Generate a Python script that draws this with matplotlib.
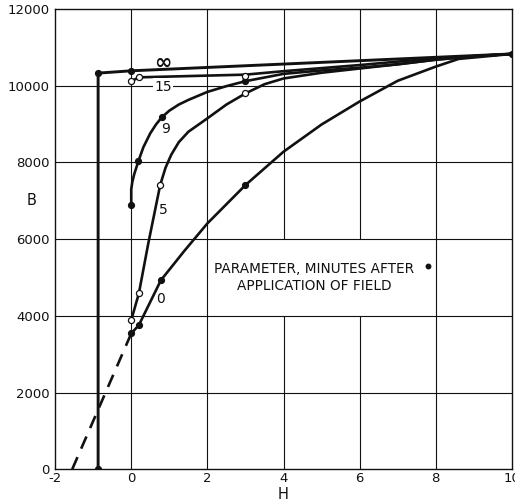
#!/usr/bin/env python3
"""B-H curves with time after field application as parameter."""

import matplotlib

matplotlib.use("Agg")

import matplotlib.pyplot as plt

INK = "#111111"

# curve paths (H, B)
inf_h = [-0.87, -0.87, 0.0, 10.0]
inf_b = [0, 10330, 10390, 10830]

m15_h = [0.0, 0.2, 3.0, 4.0, 6.0, 8.0, 10.0]
m15_b = [10115, 10220, 10290, 10380, 10540, 10720, 10830]

m9_h = [0.0, 0.0, 0.03, 0.08, 0.19, 0.32, 0.5, 0.65, 0.8, 1.0, 1.25, 1.5, 2.0, 2.5, 3.0, 4.0, 5.0, 6.0, 7.0, 8.0, 9.0, 10.0]
m9_b = [6890, 7300, 7500, 7700, 8040, 8400, 8760, 8990, 9175, 9350, 9510, 9630, 9840, 9990, 10120, 10310, 10400, 10470, 10560, 10680, 10770, 10830]

m5_h = [0.0, 0.2, 0.45, 0.76, 0.9, 1.05, 1.25, 1.5, 2.0, 2.5, 3.0, 3.5, 4.0, 5.0, 6.0, 7.0, 8.0, 9.0, 10.0]
m5_b = [3887, 4584, 5900, 7410, 7860, 8200, 8530, 8800, 9150, 9510, 9800, 10040, 10190, 10340, 10450, 10560, 10680, 10770, 10830]

m0_h = [0.0, 0.2, 0.78, 1.4, 2.0, 3.0, 4.0, 5.0, 6.0, 7.0, 8.0, 8.6, 10.0]
m0_b = [3540, 3757, 4930, 5700, 6410, 7410, 8280, 8990, 9590, 10130, 10500, 10700, 10830]

# extrapolation of the 0-minute curve
dash_h = [-1.55, 0.0]
dash_b = [0, 3540]

# measured points
filled_h = [-0.87, -0.87, 0.0, 10.0, 0.0, 0.19, 0.8, 3.0, 0.0, 0.2, 0.78, 3.0]
filled_b = [0, 10330, 10390, 10830, 6890, 8040, 9175, 10120, 3540, 3757, 4930, 7410]
open_h = [0.0, 0.2, 3.0, 0.0, 0.2, 0.76, 3.0]
open_b = [10115, 10220, 10260, 3887, 4584, 7410, 9800]

# curve labels
label_text = ["\u221e", "15", "9", "5", "0"]
label_h = [0.84, 0.83, 0.89, 0.83, 0.77]
label_b = [10600, 9975, 8860, 6760, 4430]

x_ticks = [-2, 0, 2, 4, 6, 8, 10]
y_ticks = [0, 2000, 4000, 6000, 8000, 10000, 12000]


def draw_grid(ax):
    kw = dict(color=INK, linewidth=0.8, zorder=1)
    for h in [0, 2, 8]:
        ax.vlines(h, 0, 12000, **kw)
    # note box sits between H=2..8, B=4000..6000 without grid
    for h in [4, 6]:
        ax.vlines(h, 0, 4000, **kw)
        ax.vlines(h, 6000, 12000, **kw)
    for b in [2000, 4000, 6000, 8000, 10000]:
        ax.hlines(b, -2, 10, **kw)


def main():
    fig = plt.figure(figsize=(5.15, 5.04), dpi=100, facecolor="white")
    ax = fig.add_axes([0.107, 0.069, 0.887, 0.913])
    draw_grid(ax)

    lw = 1.9
    ax.plot(inf_h, inf_b, color=INK, lw=2.1, zorder=3)
    for h, b in ((m15_h, m15_b), (m9_h, m9_b), (m5_h, m5_b), (m0_h, m0_b)):
        ax.plot(h, b, color=INK, lw=lw, zorder=3, solid_joinstyle="round")
    ax.plot(dash_h, dash_b, color=INK, lw=lw, ls=(0, (5, 3.5)), zorder=3)

    ax.plot(filled_h, filled_b, "o", ms=4.2, color=INK, zorder=4)
    ax.plot(open_h, open_b, "o", ms=4.4, mfc="white", mec=INK, mew=0.9, zorder=5)

    for t, h, b in zip(label_text, label_h, label_b):
        if t == "\u221e":
            ax.text(h, b, t, ha="center", va="center", fontsize=15, fontweight="bold",
                    color=INK, zorder=6)
        else:
            ax.text(h, b, t, ha="center", va="center", fontsize=10, color=INK, zorder=6,
                    bbox=dict(facecolor="white", edgecolor="none", pad=1.0) if t == "15" else None)

    ax.text(2.18, 5220, "PARAMETER, MINUTES AFTER", fontsize=9.8, color=INK, va="center", ha="left")
    ax.text(2.78, 4775, "APPLICATION OF FIELD", fontsize=9.8, color=INK, va="center", ha="left")
    ax.plot([7.8], [5290], "o", ms=3.2, color=INK)

    ax.set_xlim(-2, 10)
    ax.set_ylim(0, 12000)
    ax.set_xticks(x_ticks)
    ax.set_yticks(y_ticks)
    ax.set_xticklabels([str(v) for v in x_ticks])
    ax.set_yticklabels([str(v) for v in y_ticks])
    ax.tick_params(length=0, labelsize=9.5, colors=INK)
    ax.tick_params(axis="x", pad=2)
    ax.tick_params(axis="y", pad=4)
    for spine in ax.spines.values():
        spine.set_color(INK)
        spine.set_linewidth(1.0)

    ax.set_xlabel("H", fontsize=10.5, color=INK)
    ax.xaxis.set_label_coords(0.5, -0.038)
    ax.set_ylabel("B", fontsize=10.5, color=INK, rotation=0, va="center", ha="center")
    ax.yaxis.set_label_coords(-0.051, 0.585)

    fig.savefig("out.png", dpi=100, facecolor="white")
    plt.close(fig)


if __name__ == "__main__":
    main()
